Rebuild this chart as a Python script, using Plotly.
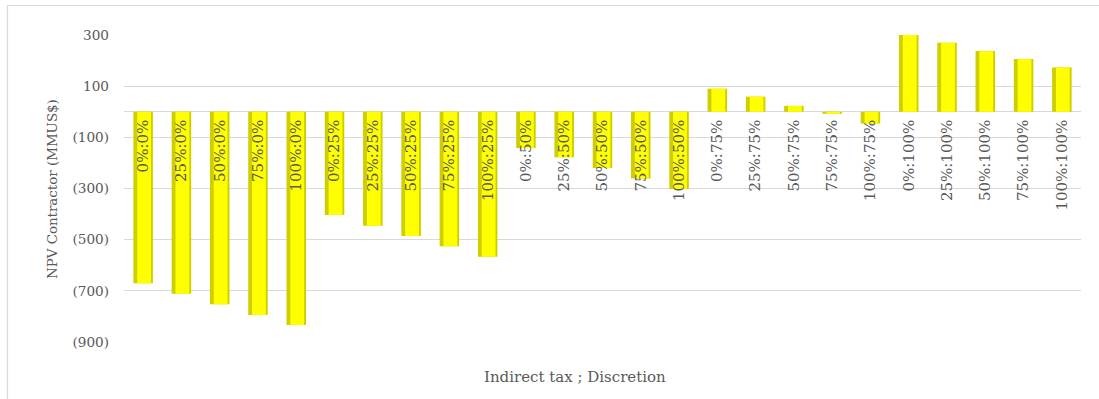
import plotly.graph_objects as go

categories = ["0%:0%", "25%:0%", "50%:0%", "75%:0%", "100%:0%",
              "0%:25%", "25%:25%", "50%:25%", "75%:25%", "100%:25%",
              "0%:50%", "25%:50%", "50%:50%", "75%:50%", "100%:50%",
              "0%:75%", "25%:75%", "50%:75%", "75%:75%", "100%:75%",
              "0%:100%", "25%:100%", "50%:100%", "75%:100%", "100%:100%"]
npv_values = [-670, -711, -752, -794, -834,
              -404, -446, -486, -526, -567,
              -142, -178, -220, -261, -302,
              90, 59, 23, -8, -46,
              300, 270, 237, 206, 173]
y_tick_vals = [300, 100, -100, -300, -500, -700, -900]
y_tick_text = ["300", "100", "(100)", "(300)", "(500)", "(700)", "(900)"]

FONT = "DejaVu Serif"
GREY = "#595959"
GRID = "#D9D9D9"

L, R, T, B = 124, 18, 35, 57
W, H = 1099, 399
PW, PH = W - L - R, H - T - B
ymin, ymax = -900, 300


def px(x):
    return (x - L) / PW


def py(y):
    return (H - B - y) / PH


fig = go.Figure()
fig.add_trace(go.Bar(x=categories, y=npv_values, width=0.51,
                     marker=dict(color="#CFCF00", line=dict(width=0)),
                     hoverinfo="skip", showlegend=False))
fig.add_trace(go.Bar(x=categories, y=npv_values, width=0.36, offset=-0.155,
                     marker=dict(color="#FFFF00", line=dict(width=0)),
                     showlegend=False))

fig.update_layout(
    width=W, height=H, barmode="overlay",
    margin=dict(l=L, r=R, t=T, b=B),
    paper_bgcolor="white", plot_bgcolor="white",
    font=dict(family=FONT, color=GREY),
    xaxis=dict(
        type="category", anchor="free",
        position=(0 - ymin) / (ymax - ymin),
        tickangle=-90, tickfont=dict(size=15, family=FONT, color=GREY),
        showgrid=False, showline=False, ticks="", automargin=False,
        ticklabelstandoff=4,
    ),
    yaxis=dict(
        range=[ymin, ymax], tickvals=y_tick_vals, ticktext=y_tick_text,
        tickfont=dict(size=13.6, family=FONT, color=GREY),
        showgrid=True, gridcolor=GRID, gridwidth=1,
        zeroline=True, zerolinecolor=GRID, zerolinewidth=1,
        showline=False, ticks="", automargin=False, ticklabelstandoff=14,
    ),
    annotations=[
        dict(text="Indirect tax ; Discretion", xref="paper", yref="paper",
             x=px(575), y=py(377), xanchor="center", yanchor="middle",
             showarrow=False, font=dict(size=15, family=FONT, color=GREY)),
        dict(text="NPV Contractor (MMUS$)", xref="paper", yref="paper",
             x=px(52), y=py(189), xanchor="center", yanchor="middle",
             textangle=-90, showarrow=False,
             font=dict(size=13.4, family=FONT, color=GREY)),
    ],
    shapes=[
        dict(type="rect", xref="paper", yref="paper",
             x0=px(7.5), x1=px(1110), y0=py(410), y1=py(5.5),
             line=dict(color=GRID, width=1.2), fillcolor="rgba(0,0,0,0)",
             layer="below"),
    ],
)

fig.write_html("out.html")
